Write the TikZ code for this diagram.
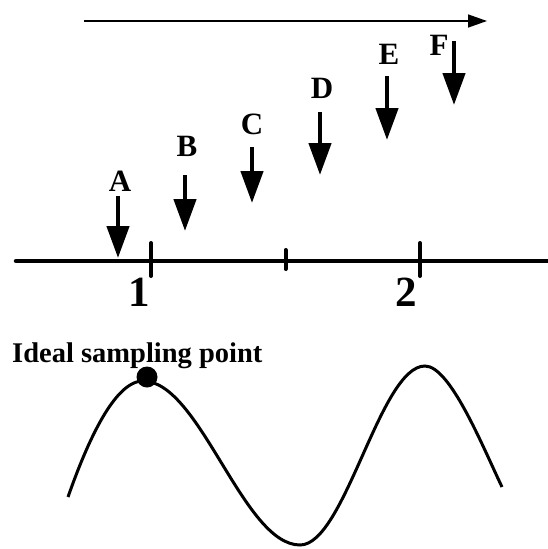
\documentclass[tikz,border=0pt]{standalone}
\usepackage{fontspec}
\setmainfont{Liberation Serif}
\usetikzlibrary{arrows.meta,positioning,calc}

\begin{document}
\begin{tikzpicture}[
    x=1pt, y=-1pt,
    letter/.style={font=\fontsize{31}{31}\selectfont\bfseries, inner sep=0pt},
    digit/.style={font=\fontsize{43}{43}\selectfont\bfseries, inner sep=0pt},
    caption/.style={font=\fontsize{28.5}{28.5}\selectfont\bfseries, inner sep=0pt, anchor=base west},
    sample/.style={-{Triangle[length=32pt, width=22pt]}, line width=4.5pt},
    timeline/.style={-{Triangle[length=19pt, width=13pt]}, line width=1.5pt},
    timeaxis/.style={line width=4.5pt, line cap=round},
    tickmark/.style={line width=4pt, line cap=round},
    wave/.style={line width=3pt}
]
    \useasboundingbox (0,0) rectangle (547,549);

    % Time direction
    \coordinate (tstart) at (84,21);
    \coordinate (tend) at (487,21);
    \draw[timeline] (tstart) -- (tend);

    % Sampling instants
    \node[letter] (labA) at (120,181) {A};
    \node[letter] (labB) at (187,146) {B};
    \node[letter] (labC) at (252,124) {C};
    \node[letter] (labD) at (322,88) {D};
    \node[letter] (labE) at (389,54) {E};
    \node[letter] (labF) at (439,45) {F};

    \coordinate (topA) at (118,196); \coordinate (tipA) at (118,258);
    \coordinate (topB) at (185,175); \coordinate (tipB) at (185,231);
    \coordinate (topC) at (252,147); \coordinate (tipC) at (252,203);
    \coordinate (topD) at (320,112); \coordinate (tipD) at (320,175);
    \coordinate (topE) at (387,76);  \coordinate (tipE) at (387,140);
    \coordinate (topF) at (454,41);  \coordinate (tipF) at (454,105);

    \draw[sample] (topA) -- (tipA);
    \draw[sample] (topB) -- (tipB);
    \draw[sample] (topC) -- (tipC);
    \draw[sample] (topD) -- (tipD);
    \draw[sample] (topE) -- (tipE);
    \draw[sample] (topF) -- (tipF);

    % Bit time axis
    \coordinate (axl) at (16,261);
    \coordinate (axr) at (548,261);
    \draw[timeaxis] (axl) -- (axr);
    \draw[tickmark] (151,243) -- (151,276);
    \draw[tickmark] (285.5,250) -- (285.5,269);
    \draw[tickmark] (420,243) -- (420,276);
    \node[digit] (one) at (139,292) {1};
    \node[digit] (two) at (406,292) {2};

    % Received waveform
    \node[caption] (ideal) at (12,362) {Ideal sampling point};
    \draw[wave] (68,497) .. controls (88,440) and (115,381) .. (143,381)
        .. controls (200,381) and (243,545) .. (300,545)
        .. controls (345,545) and (380,366) .. (425,366)
        .. controls (450,366) and (482,445) .. (502,487);
    \fill (147,377) circle (10.5);
\end{tikzpicture}
\end{document}
